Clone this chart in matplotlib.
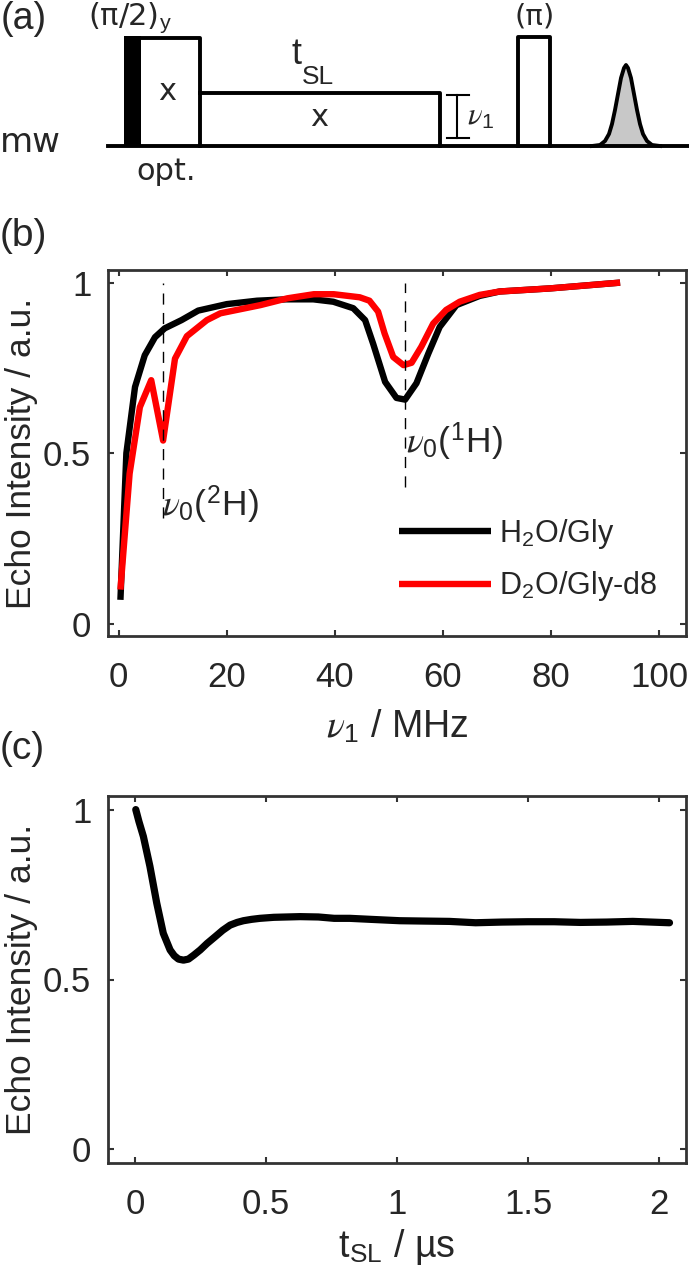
import matplotlib
matplotlib.use("Agg")
import matplotlib.pyplot as plt

plt.rcParams['font.family'] = ['Liberation Sans', 'DejaVu Sans']
plt.rcParams['mathtext.fontset'] = 'custom'
plt.rcParams['mathtext.rm'] = 'Liberation Sans'
plt.rcParams['mathtext.it'] = 'STIXGeneral:italic'

W, H = 689, 1283
GRAY = '#333333'
TXT = '#262626'

# panel b: spin lock nutation
h2o_x = [0.3, 1.4, 3.0, 4.8, 6.7, 8.5, 11.6, 14.7, 20, 25.6, 31, 36, 39.7, 43.4, 45.6, 47.1, 49.3, 51.4, 53,
         55.1, 57.3, 59.4, 62.5, 66.8, 70.5, 79.8, 92.8]
h2o_y = [0.07, 0.50, 0.694, 0.787, 0.84, 0.866, 0.89, 0.918, 0.937, 0.947, 0.951, 0.951, 0.944, 0.925, 0.89,
         0.82, 0.709, 0.662, 0.657, 0.705, 0.792, 0.87, 0.934, 0.961, 0.974, 0.983, 1.0]
d2o_x = [0.3, 2.0, 3.9, 6.0, 8.2, 10.4, 12.6, 16.3, 18.8, 26.2, 31.2, 36.1, 39.8, 44.6, 46.4, 48, 49.2, 50.8,
         52.7, 54.2, 56, 58.2, 60.6, 63.1, 66.8, 70.5, 79.8, 92.8]
d2o_y = [0.10, 0.44, 0.635, 0.714, 0.537, 0.777, 0.843, 0.89, 0.91, 0.934, 0.954, 0.966, 0.966, 0.957, 0.947,
         0.915, 0.851, 0.782, 0.758, 0.765, 0.812, 0.88, 0.92, 0.944, 0.964, 0.974, 0.983, 1.0]
nu_2h = 8.2
nu_1h = 53

# panel c: decay with t_SL
tsl = [0.003, 0.015, 0.032, 0.057, 0.083, 0.108, 0.134, 0.15, 0.166, 0.185, 0.204, 0.225, 0.249, 0.275, 0.306,
       0.335, 0.363, 0.39, 0.414, 0.445, 0.477, 0.53, 0.58, 0.63, 0.7, 0.76, 0.82, 0.9, 1.01, 1.1, 1.2, 1.3, 1.4,
       1.5, 1.6, 1.7, 1.8, 1.9, 2.04]
echo = [1.0, 0.965, 0.921, 0.833, 0.725, 0.636, 0.587, 0.57, 0.56, 0.557, 0.56, 0.572, 0.587, 0.606, 0.626,
        0.645, 0.66, 0.668, 0.673, 0.677, 0.68, 0.683, 0.684, 0.685, 0.684, 0.68, 0.68, 0.677, 0.673, 0.672, 0.671,
        0.667, 0.669, 0.67, 0.67, 0.668, 0.669, 0.671, 0.667]

# panel a: echo shape in pixels of the scheme
echo_px = [592, 600, 605, 609, 612, 615, 618, 621, 624, 626, 628, 631, 634, 637, 640, 643, 647, 652, 660]
echo_py = [146, 145, 141, 134, 124, 110, 94, 78, 68, 65, 68, 78, 94, 110, 124, 134, 141, 145, 146]


def px_axes(fig, left, top, right, bottom):
    return fig.add_axes([left / W, 1 - bottom / H, (right - left) / W, (bottom - top) / H])


fig = plt.figure(figsize=(W / 100, H / 100), dpi=100)

# pulse scheme, drawn in pixel coordinates
sch = fig.add_axes([0, 0, 1, 1])
sch.set_xlim(0, W)
sch.set_ylim(H, 0)
sch.axis('off')
sch.plot([108, 689], [146, 146], color='k', lw=2.8)
sch.fill_between([124, 141], [36, 36], [146, 146], color='k', lw=0)
sch.plot([141, 200, 200], [38, 38, 146], color='k', lw=2.8)
sch.plot([200, 440, 440], [93, 93, 146], color='k', lw=2.8)
sch.plot([518, 518, 550, 550], [146, 37, 37, 146], color='k', lw=2.8)
sch.fill_between(echo_px, echo_py, 146, color='#c8c8c8', lw=0)
sch.plot(echo_px, echo_py, color='k', lw=2.8)
sch.plot([457, 457], [95, 138], color='k', lw=1.5)
sch.plot([447, 469], [95, 95], color='k', lw=1.5)
sch.plot([447, 469], [138, 138], color='k', lw=1.5)
sch.text(1, 19, '(a)', fontsize=27, va='center', color=TXT)
sch.text(0, 236, '(b)', fontsize=28, va='center', color=TXT)
sch.text(0, 749, '(c)', fontsize=28, va='center', color=TXT)
sch.text(88, 18, r'(π/2)$_{\mathrm{y}}$', fontsize=22, va='center', family=['DejaVu Sans'], color=TXT)
sch.text(535, 16, '(π)', fontsize=21, va='center', ha='center', family=['DejaVu Sans'], color=TXT)
sch.text(167, 92, 'x', fontsize=22, va='center', ha='center', family=['DejaVu Sans'], color=TXT)
sch.text(319, 117, 'x', fontsize=22, va='center', ha='center', family=['DejaVu Sans'], color=TXT)
sch.text(292, 55, 't', fontsize=26, va='center', color=TXT)
sch.text(302, 77, 'SL', fontsize=19, va='center', color=TXT)
sch.text(467, 117, r'$\nu_{1}$', fontsize=22, va='center', color=TXT)
sch.text(0, 143, 'mw', fontsize=24.5, va='center', family=['DejaVu Sans'], color=TXT)
sch.text(166, 172, 'opt.', fontsize=22, va='center', ha='center', family=['DejaVu Sans'], color=TXT)

# panel b
ax1 = px_axes(fig, 108, 270, 686, 636)
ax1.plot(h2o_x, h2o_y, color='k', lw=4.6, solid_capstyle='butt', label=r'H$_2$O/Gly')
ax1.plot(d2o_x, d2o_y, color='#ff0000', lw=4.6, solid_capstyle='butt', label=r'D$_2$O/Gly-d8')
ax1.plot([nu_2h, nu_2h], [0.31, 1.0], color='k', lw=1, ls=(0, (8, 6)))
ax1.plot([nu_1h, nu_1h], [0.40, 1.0], color='k', lw=1, ls=(0, (8, 6)))
ax1.text(nu_2h - 0.2, 0.35, r'$\nu_0$($^{2}$H)', fontsize=25.5, va='center', color=TXT)
ax1.text(nu_1h + 0.1, 0.535, r'$\nu_0$($^{1}$H)', fontsize=25.5, va='center', color=TXT)
ax1.set_xlim(-2, 105)
ax1.set_ylim(-0.036, 1.037)
ax1.set_xticks([0, 20, 40, 60, 80, 100])
ax1.set_yticks([0, 0.5, 1])
ax1.set_yticklabels(['0', '0.5', '1'])
ax1.set_xlabel(r'$\nu_1$ / MHz', fontsize=27, labelpad=11, color=TXT)
ax1.set_ylabel('Echo Intensity / a.u.', fontsize=25.5, labelpad=4, color=TXT)
ax1.legend(loc='lower right', bbox_to_anchor=(0.95, 0.089), frameon=False, fontsize=22, handlelength=3,
           labelspacing=0.6, handletextpad=0.25, labelcolor=TXT, borderpad=0, borderaxespad=0)

# panel c
ax2 = px_axes(fig, 108, 796, 686, 1163)
ax2.plot(tsl, echo, color='k', lw=5.2, solid_capstyle='round')
ax2.set_xlim(-0.103, 2.103)
ax2.set_ylim(-0.04, 1.04)
ax2.set_xticks([0, 0.5, 1, 1.5, 2])
ax2.set_xticklabels(['0', '0.5', '1', '1.5', '2'])
ax2.set_yticks([0, 0.5, 1])
ax2.set_yticklabels(['0', '0.5', '1'])
ax2.set_xlabel(r't$_{\mathrm{SL}}$ / µs', fontsize=27, labelpad=4, color=TXT)
ax2.set_ylabel('Echo Intensity / a.u.', fontsize=25.5, labelpad=4, color=TXT)

for ax in (ax1, ax2):
    ax.tick_params(axis='x', pad=18)
    ax.tick_params(axis='y', pad=12)
    ax.tick_params(direction='in', top=True, right=True, length=4.5, width=1.5, color=GRAY, labelsize=25,
                   labelcolor=TXT)
    for s in ax.spines.values():
        s.set_linewidth(2)
        s.set_color(GRAY)

fig.savefig('out.png', dpi=100)
